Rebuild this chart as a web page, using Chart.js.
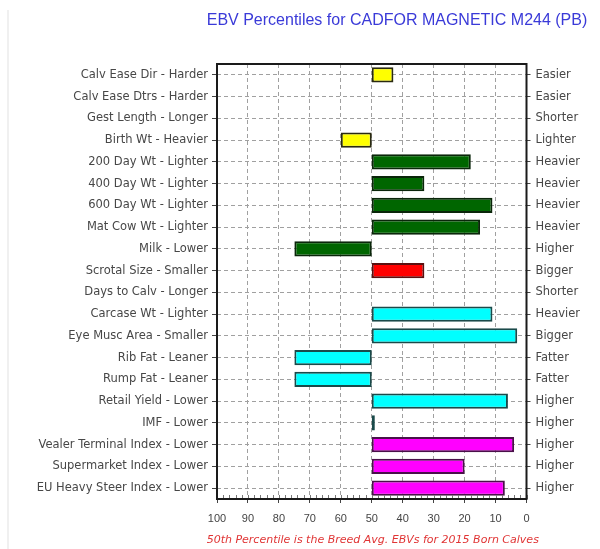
<!DOCTYPE html>
<html>
<head>
<meta charset="utf-8">
<script src="https://cdn.jsdelivr.net/npm/chart.js@4.4.1/dist/chart.umd.min.js"></script>
<style>
  html, body { margin: 0; padding: 0; background: #fff; }
  #wrap { position: relative; width: 600px; height: 549px; }
  #edge { position: absolute; left: 7px; top: 10px; width: 2px; height: 539px; background: #f0f0f0; }
</style>
</head>
<body>
<div id="wrap">
  <div id="edge"></div>
  <canvas id="c" width="600" height="549"></canvas>
</div>
<script>
const TITLE = 'EBV Percentiles for CADFOR MAGNETIC M244 (PB)';
const FOOTNOTE = '50th Percentile is the Breed Avg. EBVs for 2015 Born Calves';

const traitsLeft = [
  'Calv Ease Dir - Harder', 'Calv Ease Dtrs - Harder', 'Gest Length - Longer', 'Birth Wt - Heavier',
  '200 Day Wt - Lighter', '400 Day Wt - Lighter', '600 Day Wt - Lighter', 'Mat Cow Wt - Lighter',
  'Milk - Lower', 'Scrotal Size - Smaller', 'Days to Calv - Longer', 'Carcase Wt - Lighter',
  'Eye Musc Area - Smaller', 'Rib Fat - Leaner', 'Rump Fat - Leaner', 'Retail Yield - Lower',
  'IMF - Lower', 'Vealer Terminal Index - Lower', 'Supermarket Index - Lower', 'EU Heavy Steer Index - Lower'
];
const traitsRight = [
  'Easier', 'Easier', 'Shorter', 'Lighter',
  'Heavier', 'Heavier', 'Heavier', 'Heavier',
  'Higher', 'Bigger', 'Shorter', 'Heavier',
  'Bigger', 'Fatter', 'Fatter', 'Higher',
  'Higher', 'Higher', 'Higher', 'Higher'
];
const percentiles = [43, null, null, 60, 18, 33, 11, 15, 75, 33, null, 11, 3, 75, 75, 6, 49, 4, 20, 7];
const breedAverage = 50;
const xTicks = [100, 90, 80, 70, 60, 50, 40, 30, 20, 10, 0];

const groupFill = [
  '#ffff00', '#ffff00', '#ffff00', '#ffff00',
  '#006600', '#006600', '#006600', '#006600', '#006600',
  '#ff0000', '#ff0000',
  '#00ffff', '#00ffff', '#00ffff', '#00ffff', '#00ffff', '#00ffff',
  '#ff00ff', '#ff00ff', '#ff00ff'
];
const groupEdge = [
  '#2a2a10', '#2a2a10', '#2a2a10', '#2a2a10',
  '#0a260a', '#0a260a', '#0a260a', '#0a260a', '#0a260a',
  '#5a1010', '#5a1010',
  '#1a4a4a', '#1a4a4a', '#1a4a4a', '#1a4a4a', '#1a4a4a', '#1a4a4a',
  '#4a104a', '#4a104a', '#4a104a'
];

const FONT = '"Liberation Sans", Arial, sans-serif';
const LABEL_FONT = '"DejaVu Sans", Verdana, sans-serif';

const decor = {
  id: 'decor',
  afterDraw(chart) {
    const { ctx, chartArea: a } = chart;
    const xs = chart.scales.x;
    ctx.save();
    ctx.strokeStyle = '#777';
    ctx.lineWidth = 1;
    for (let v = 0; v <= 100; v += 2) {
      const px = Math.round(xs.getPixelForValue(v)) + 0.5;
      ctx.beginPath();
      ctx.moveTo(px, a.bottom);
      ctx.lineTo(px, a.bottom - 4);
      ctx.stroke();
    }
    ctx.strokeStyle = '#1a1a1a';
    ctx.lineWidth = 2;
    ctx.strokeRect(a.left, a.top, a.right - a.left, a.bottom - a.top);
    ctx.fillStyle = '#3a3ad8';
    ctx.font = '16px ' + FONT;
    ctx.textAlign = 'center';
    ctx.textBaseline = 'middle';
    ctx.fillText(TITLE, 397, 21);
    ctx.fillStyle = '#e03535';
    ctx.font = 'italic 11px ' + LABEL_FONT;
    ctx.fillText(FOOTNOTE, (a.left + a.right) / 2 + 1, 540);
    ctx.restore();
  }
};

new Chart(document.getElementById('c'), {
  type: 'bar',
  data: {
    labels: traitsLeft,
    datasets: [{
      data: percentiles.map(v => v == null ? null : [breedAverage, v]),
      backgroundColor: groupFill,
      borderColor: groupEdge,
      borderWidth: 2,
      borderSkipped: false,
      barPercentage: 0.7,
      categoryPercentage: 1.0,
      yAxisID: 'y'
    }]
  },
  options: {
    indexAxis: 'y',
    responsive: false,
    animation: false,
    layout: { padding: { top: 64, bottom: 20, left: 0, right: 0 } },
    plugins: { legend: { display: false }, tooltip: { enabled: false }, title: { display: false } },
    scales: {
      x: {
        type: 'linear',
        reverse: true,
        min: 0,
        max: 100,
        afterBuildTicks(scale) { scale.ticks = xTicks.map(v => ({ value: v })); },
        afterFit(scale) { scale.height = 30; },
        ticks: { color: '#444', font: { family: FONT, size: 11 }, padding: 9, maxRotation: 0 },
        grid: {
          color: '#a0a0a0',
          tickLength: 4,
          tickColor: '#444',
          tickBorderDash: []
        },
        border: { display: false, dash: [4, 3] }
      },
      y: {
        type: 'category',
        position: 'left',
        offset: true,
        afterFit(scale) { scale.width = 217; },
        ticks: { color: '#474747', font: { family: LABEL_FONT, size: 11.5 }, padding: 4, autoSkip: false },
        grid: {
          offset: false,
          color: '#a0a0a0',
          tickLength: 5,
          tickColor: '#444',
          tickBorderDash: []
        },
        border: { display: false, dash: [4, 3] }
      },
      yR: {
        type: 'category',
        position: 'right',
        labels: traitsRight,
        offset: true,
        afterFit(scale) { scale.width = 73.5; },
        ticks: { color: '#474747', font: { family: LABEL_FONT, size: 11.5 }, padding: 5, autoSkip: false },
        grid: {
          offset: false,
          drawOnChartArea: false,
          tickLength: 4,
          tickColor: '#444',
          tickBorderDash: []
        },
        border: { display: false }
      }
    }
  },
  plugins: [decor]
});
</script>
</body>
</html>
